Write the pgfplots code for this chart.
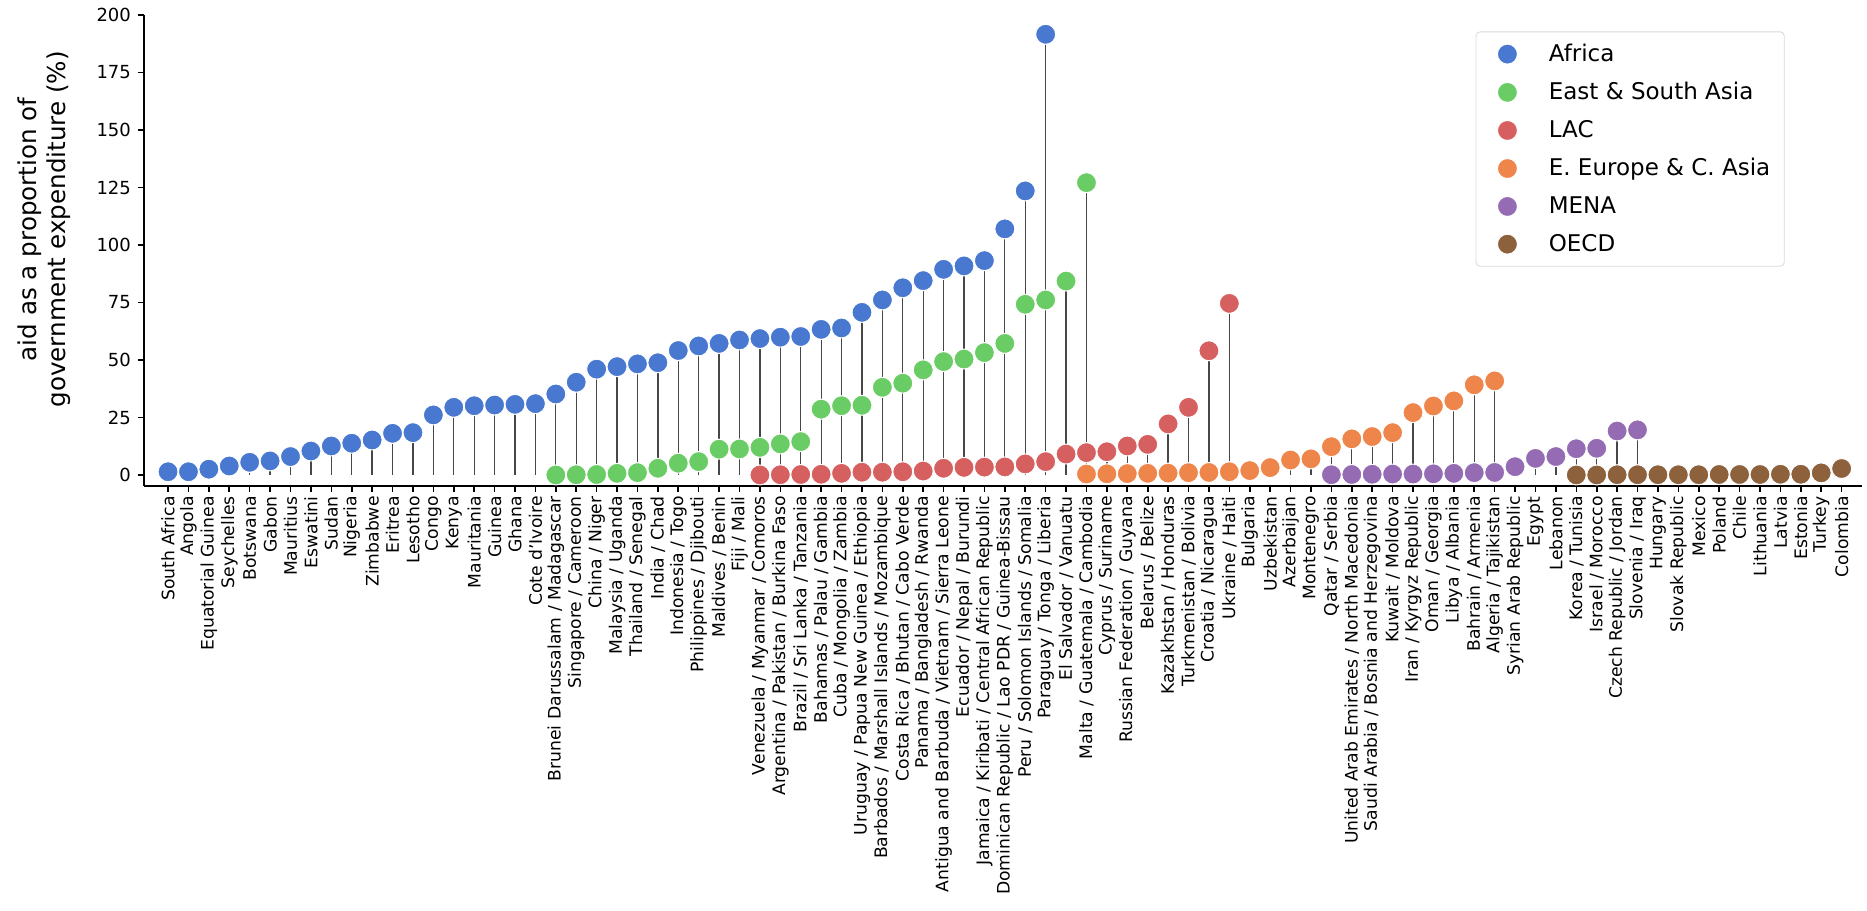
\documentclass[border=0pt]{standalone}
\usepackage{fontspec}
\setmainfont{DejaVu Sans}
\usepackage{pgfplots}
\usepackage{pgfplotstable}
\pgfplotsset{compat=1.18}
\definecolor{cAfr}{HTML}{4878D0}
\definecolor{cAsi}{HTML}{6ACC64}
\definecolor{cLac}{HTML}{D65F5F}
\definecolor{cEec}{HTML}{EE854A}
\definecolor{cMen}{HTML}{956CB4}
\definecolor{cOec}{HTML}{8C613C}

\pgfplotstableread{
x y
0 1.4
1 1.4
2 2.5
3 3.9
4 5.5
5 6.1
6 8.0
7 10.4
8 12.6
9 13.8
10 15.2
11 18.1
12 18.4
13 26.1
14 29.4
15 30.1
16 30.4
17 30.7
18 31.0
19 35.2
20 40.3
21 46.0
22 47.1
23 48.3
24 48.8
25 54.1
26 56.1
27 57.2
28 58.7
29 59.3
30 59.9
31 60.2
32 63.3
33 63.9
34 70.7
35 76.1
36 81.4
37 84.5
38 89.4
39 90.9
40 93.2
41 107.0
42 123.5
43 191.6
}\africa

\pgfplotstableread{
x y
19 0.0
20 0.1
21 0.2
22 0.7
23 1.0
24 2.9
25 5.1
26 5.8
27 11.2
28 11.3
29 12.0
30 13.5
31 14.5
32 28.6
33 30.1
34 30.3
35 38.1
36 39.9
37 45.7
38 49.3
39 50.4
40 53.2
41 57.2
42 74.2
43 76.1
44 84.3
45 127.1
}\asia

\pgfplotstableread{
x y
29 0.0
30 0.1
31 0.2
32 0.3
33 0.7
34 1.2
35 1.2
36 1.4
37 1.7
38 2.9
39 3.3
40 3.4
41 3.5
42 4.8
43 5.8
44 9.1
45 9.7
46 10.1
47 12.6
48 13.3
49 22.2
50 29.4
51 54.0
52 74.6
}\lac

\pgfplotstableread{
x y
45 0.4
46 0.5
47 0.6
48 0.7
49 0.8
50 1.0
51 1.1
52 1.4
53 1.9
54 3.2
55 6.5
56 7.0
57 12.3
58 15.7
59 16.7
60 18.4
61 27.1
62 30.0
63 32.2
64 39.2
65 40.9
}\eeca

\pgfplotstableread{
x y
57 0.1
58 0.2
59 0.3
60 0.4
61 0.4
62 0.5
63 0.7
64 1.0
65 1.1
66 3.6
67 7.2
68 8.0
69 11.4
70 11.6
71 19.1
72 19.6
}\mena

\pgfplotstableread{
x y
69 0.0
70 0.0
71 0.1
72 0.1
73 0.1
74 0.1
75 0.1
76 0.2
77 0.2
78 0.2
79 0.3
80 0.3
81 0.9
82 2.8
}\oecd

\begin{document}
\begin{tikzpicture}
\begin{axis}[
  scale only axis,
  width=859pt, height=235.5pt,
  xmin=-1.18, xmax=83.0,
  ymin=-4.8, ymax=200,
  axis x line*=bottom, axis y line*=left,
  axis line style={line width=0.9pt},
  tick style={line width=0.8pt, black},
  tick align=outside,
  major tick length=3pt,
  ytick={0,25,50,75,100,125,150,175,200},
  /pgf/number format/assume math mode=true,
  yticklabel style={font=\fontsize{9}{10}\selectfont},
  xtick={0,...,82},
  xticklabels={South Africa, Angola, Equatorial Guinea, Seychelles, Botswana, Gabon, Mauritius, Eswatini, Sudan, Nigeria, Zimbabwe, Eritrea, Lesotho, Congo, Kenya, Mauritania, Guinea, Ghana, Cote d'Ivoire, Brunei Darussalam / Madagascar, Singapore / Cameroon, China / Niger, Malaysia / Uganda, Thailand / Senegal, India / Chad, Indonesia / Togo, Philippines / Djibouti, Maldives / Benin, Fiji / Mali, Venezuela / Myanmar / Comoros, Argentina / Pakistan / Burkina Faso, Brazil / Sri Lanka / Tanzania, Bahamas / Palau / Gambia, Cuba / Mongolia / Zambia, Uruguay / Papua New Guinea / Ethiopia, Barbados / Marshall Islands / Mozambique, Costa Rica / Bhutan / Cabo Verde, Panama / Bangladesh / Rwanda, Antigua and Barbuda / Vietnam / Sierra Leone, Ecuador / Nepal / Burundi, Jamaica / Kiribati / Central African Republic, Dominican Republic / Lao PDR / Guinea-Bissau, Peru / Solomon Islands / Somalia, Paraguay / Tonga / Liberia, El Salvador / Vanuatu, Malta / Guatemala / Cambodia, Cyprus / Suriname, Russian Federation / Guyana, Belarus / Belize, Kazakhstan / Honduras, Turkmenistan / Bolivia, Croatia / Nicaragua, Ukraine / Haiti, Bulgaria, Uzbekistan, Azerbaijan, Montenegro, Qatar / Serbia, United Arab Emirates / North Macedonia, Saudi Arabia / Bosnia and Herzegovina, Kuwait / Moldova, Iran / Kyrgyz Republic, Oman / Georgia, Libya / Albania, Bahrain / Armenia, Algeria / Tajikistan, Syrian Arab Republic, Egypt, Lebanon, Korea / Tunisia, Israel / Morocco, Czech Republic / Jordan, Slovenia / Iraq, Hungary, Slovak Republic, Mexico, Poland, Chile, Lithuania, Latvia, Estonia, Turkey, Colombia},
  xticklabel style={rotate=90, anchor=east, font=\fontsize{8.6}{10}\selectfont, inner sep=2pt},
  ylabel={aid as a proportion of\\government expenditure (\%)},
  every axis y label/.style={at={(rel axis cs:-0.0384,0.545)}, rotate=90, anchor=south, align=center, font=\fontsize{12.3}{14.8}\selectfont},
  legend style={at={(rel axis cs:0.955,0.965)}, anchor=north east,
    draw=black!15, rounded corners=2pt, fill=white,
    font=\fontsize{11.5}{14}\selectfont, row sep=4.9pt, column sep=8pt,
    inner xsep=5pt, inner ysep=4pt, cells={anchor=west}},
  legend image code/.code={\path (0pt,0pt) (21pt,0pt); \draw[#1] plot coordinates {(10.5pt,0pt)};},
  legend cell align=left,
  clip=false,
]
\coordinate (bbsw) at (rel axis cs:-0.0838,-0.9023);
\coordinate (bbne) at (rel axis cs:1.0029,1.0318);
\pgfplotsset{stem/.style={ycomb, draw=black!72, line width=0.65pt, forget plot, no marks}}
\addplot[stem] table {\africa};
\addplot[stem] table {\asia};
\addplot[stem] table {\lac};
\addplot[stem] table {\eeca};
\addplot[stem] table {\mena};
\addplot[stem] table {\oecd};
\pgfplotsset{dots/.style={only marks, mark=*, mark size=5pt, mark options={fill=#1, draw=white, line width=0.5pt}}}
\addplot[dots=cAfr] table {\africa}; \addlegendentry{Africa}
\addplot[dots=cAsi] table {\asia}; \addlegendentry{East \& South Asia}
\addplot[dots=cLac] table {\lac}; \addlegendentry{LAC}
\addplot[dots=cEec] table {\eeca}; \addlegendentry{E. Europe \& C. Asia}
\addplot[dots=cMen] table {\mena}; \addlegendentry{MENA}
\addplot[dots=cOec] table {\oecd}; \addlegendentry{OECD}
\end{axis}
\pgfresetboundingbox
\path (bbsw) rectangle (bbne);
\end{tikzpicture}
\end{document}
